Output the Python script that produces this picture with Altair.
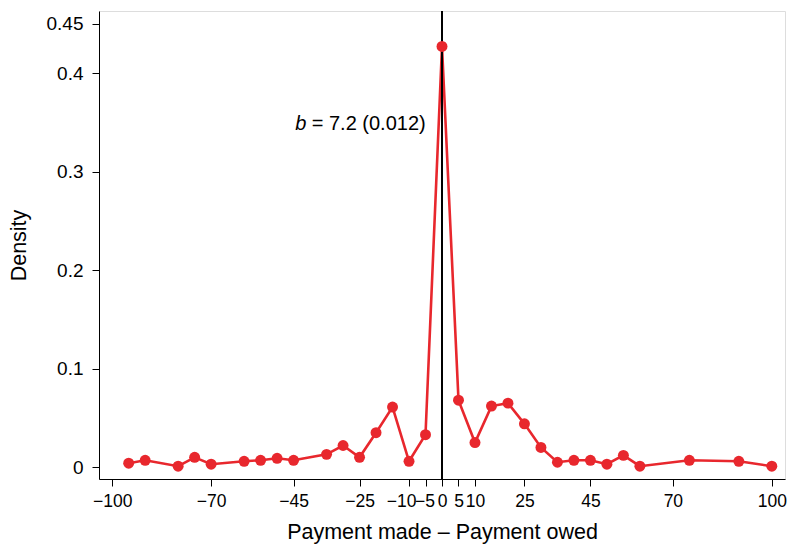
import altair as alt
import pandas as pd

diff = [-95, -90, -80, -75, -70, -60, -55, -50, -45, -35, -30, -25, -20, -15, -10, -5,
        0, 5, 10, 15, 20, 25, 30, 35, 40, 45, 50, 55, 60, 75, 90, 100]
density = [0.004, 0.007, 0.001, 0.010, 0.003, 0.006, 0.007, 0.009, 0.007, 0.013, 0.022, 0.010,
           0.035, 0.061, 0.006, 0.033,
           0.427, 0.068, 0.025, 0.062, 0.065, 0.044, 0.020, 0.005, 0.007, 0.007, 0.003, 0.012,
           0.001, 0.007, 0.006, 0.001]
x_ticks = [-100, -70, -45, -25, -10, -5, 0, 5, 10, 25, 45, 70, 100]
y_ticks = [0, 0.1, 0.2, 0.3, 0.4, 0.45]

df = pd.DataFrame({"diff": diff, "density": density})

FONT = "Liberation Sans"
RED = "#E8272D"

xscale = alt.Scale(domain=[-104, 104], nice=False, zero=False)
yscale = alt.Scale(domain=[-0.012, 0.463], nice=False, zero=False)

label_offset = {
    "condition": [
        {"test": "datum.value == -10", "value": -8},
        {"test": "datum.value == -5", "value": -1},
    ],
    "value": 0,
}

xaxis = alt.Axis(values=x_ticks, format="d", title="Payment made \u2013 Payment owed",
                 grid=False, tickSize=7, labelPadding=6, labelOverlap=False, labelFlush=False,
                 labelOffset=label_offset,
                 labelFontSize=17.5, titleFontSize=21.5, titlePadding=12,
                 labelFont=FONT, titleFont=FONT, labelColor="black", titleColor="black",
                 titleFontWeight="normal", domainColor="black", tickColor="black")
yaxis = alt.Axis(values=y_ticks, format="~g", title="Density",
                 grid=False, tickSize=7, labelPadding=9, labelOverlap=False, labelFlush=False,
                 labelFontSize=19, titleFontSize=21.5, titlePadding=16,
                 labelFont=FONT, titleFont=FONT, labelColor="black", titleColor="black",
                 titleFontWeight="normal", domainColor="black", tickColor="black")

base = alt.Chart(df)

line = base.mark_line(color=RED, strokeWidth=2.6).encode(
    x=alt.X("diff:Q", scale=xscale, axis=xaxis),
    y=alt.Y("density:Q", scale=yscale, axis=yaxis),
)

rule = base.mark_rule(color="black", strokeWidth=1.3).encode(
    x=alt.datum(0, scale=xscale)
)

points = base.mark_point(filled=True, color=RED, size=120, opacity=1).encode(
    x=alt.X("diff:Q", scale=xscale),
    y=alt.Y("density:Q", scale=yscale),
)

ann_b = alt.Chart(pd.DataFrame({"x": [-44.5], "y": [0.348], "t": ["b"]})).mark_text(
    align="left", baseline="middle", fontSize=20, fontStyle="italic", font=FONT, color="black"
).encode(x=alt.X("x:Q", scale=xscale), y=alt.Y("y:Q", scale=yscale), text="t:N")

ann_rest = alt.Chart(pd.DataFrame({"x": [-39.5], "y": [0.348], "t": ["= 7.2 (0.012)"]})).mark_text(
    align="left", baseline="middle", fontSize=20, font=FONT, color="black"
).encode(x=alt.X("x:Q", scale=xscale), y=alt.Y("y:Q", scale=yscale), text="t:N")

chart = alt.layer(line, rule, points, ann_b, ann_rest).properties(
    width=686, height=468,
    autosize=alt.AutoSizeParams(type="none"),
    padding={"left": 91, "top": 3, "right": 5, "bottom": 67},
).configure_view(stroke=None).configure(background="white")

chart.save("out.html", embed_options={"renderer": "svg", "actions": False})
